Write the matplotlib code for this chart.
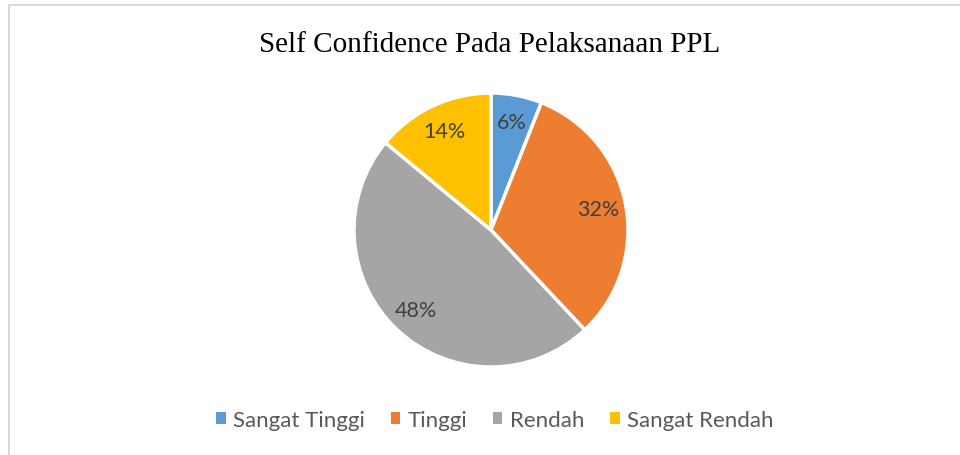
import matplotlib
matplotlib.use("Agg")
import matplotlib.pyplot as plt
from matplotlib.lines import Line2D
from matplotlib.patches import Patch

title = "Self Confidence Pada Pelaksanaan PPL"
categories = ["Sangat Tinggi", "Tinggi", "Rendah", "Sangat Rendah"]
values = [6, 32, 48, 14]
colors = ["#5B9BD5", "#ED7D31", "#A5A5A5", "#FFC000"]

fig = plt.figure(figsize=(9.6, 4.56), dpi=100)
fig.patch.set_facecolor("white")

# frame (left and top edges visible)
fig.add_artist(Line2D([9/960, 9/960], [0, 1 - 6/456], color="#D9D9D9", lw=1.5, transform=fig.transFigure))
fig.add_artist(Line2D([9/960, 1], [1 - 6/456, 1 - 6/456], color="#D9D9D9", lw=1.5, transform=fig.transFigure))

cx, cy, r = 491, 231, 137
ax = fig.add_axes([(cx - r) / 960, (456 - cy - r) / 456, 2 * r / 960, 2 * r / 456])
wedges, texts, autotexts = ax.pie(
    values, colors=colors, startangle=90, counterclock=False,
    autopct=lambda p: f"{p:.0f}%", pctdistance=0.80,
    wedgeprops=dict(edgecolor="white", linewidth=2.5),
    textprops=dict(color="#404040", fontsize=15.5, family=["Lato", "DejaVu Sans"]),
)
ax.set_aspect("equal")
ax.set_xlim(-1, 1)
ax.set_ylim(-1, 1)

fig.text(490 / 960, 1 - 45 / 456, title, ha="center", va="center",
         fontsize=21, family=["Liberation Serif"], color="black")

handles = [Patch(facecolor=c, edgecolor="none") for c in colors]
fig.legend(handles, categories, loc="center", bbox_to_anchor=(495 / 960, 1 - 421 / 456),
           ncol=4, frameon=False, handlelength=0.42, handleheight=0.42,
           handletextpad=0.35, columnspacing=1.15,
           prop=dict(family=["Lato", "DejaVu Sans"], size=16), labelcolor="#595959")

fig.savefig("out.png", dpi=100, facecolor="white")
